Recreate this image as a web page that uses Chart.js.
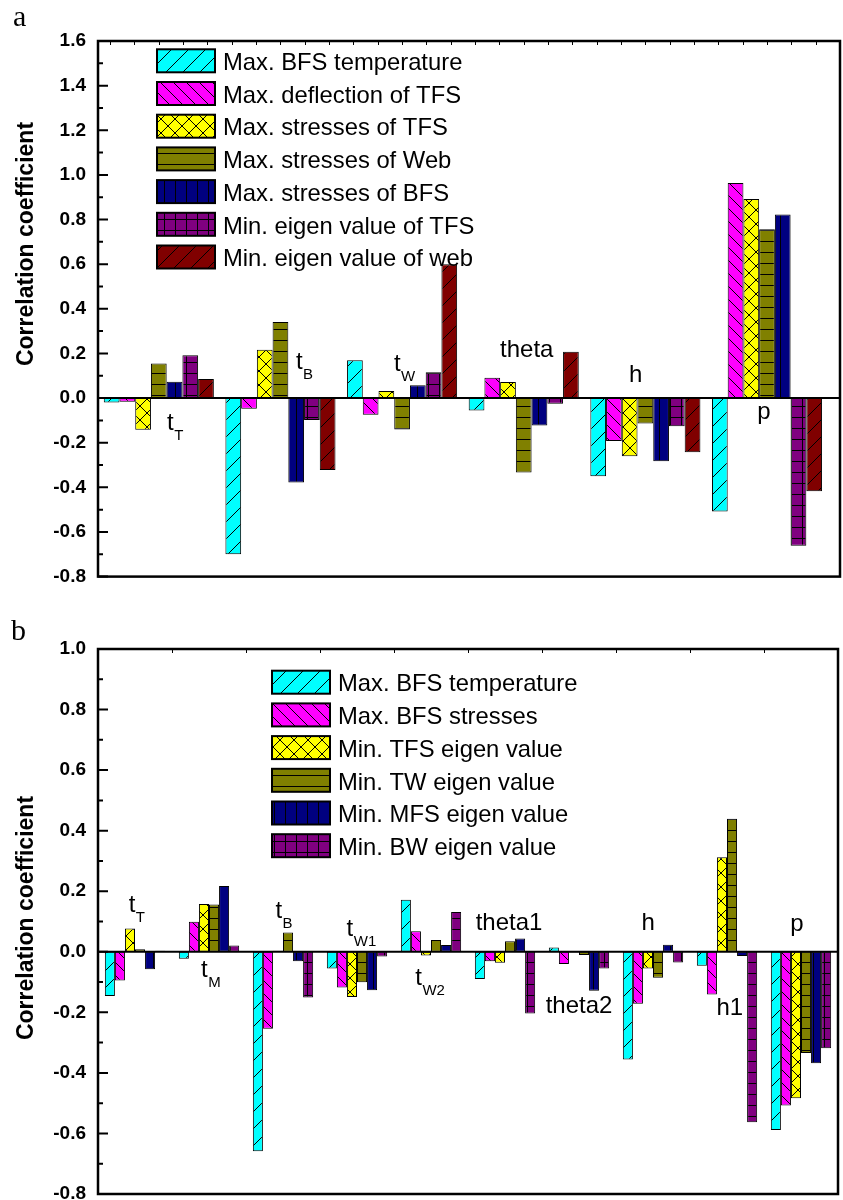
<!DOCTYPE html>
<html>
<head>
<meta charset="utf-8">
<script src="https://cdn.jsdelivr.net/npm/chart.js@4.4.1/dist/chart.umd.min.js"></script>
<style>
    html, body { margin: 0; padding: 0; background: #fff; width: 843px; height: 1200px; overflow: hidden; }
    canvas { position: absolute; left: 0; }
    #chartA { top: 0; }
    #chartB { top: 600px; }
</style>
</head>
<body>
<canvas id="chartA" width="843" height="600"></canvas>
<canvas id="chartB" width="843" height="620"></canvas>
<script>
// ---------------------------------------------------------
// Datos (coeficientes de correlacion)
// ---------------------------------------------------------

// Panel a: 6 grupos de parametros, 7 respuestas
const gruposA = ['tT', 'tB', 'tW', 'theta', 'h', 'p'];
const seriesA = [
    'Max. BFS temperature',
    'Max. deflection of TFS',
    'Max. stresses of TFS',
    'Max. stresses of Web',
    'Max. stresses of BFS',
    'Min. eigen value of TFS',
    'Min. eigen value of web'
];
const a_bfsTemp     = [-0.020, -0.700,  0.170, -0.056, -0.350, -0.508];
const a_deflTFS     = [-0.016, -0.048, -0.075,  0.091, -0.192,  0.964];
const a_stressTFS   = [-0.142,  0.217,  0.032,  0.072, -0.261,  0.892];
const a_stressWeb   = [ 0.155,  0.341, -0.141, -0.334, -0.114,  0.757];
const a_stressBFS   = [ 0.073, -0.378,  0.057, -0.123, -0.283,  0.823];
const a_eigenTFS    = [ 0.192, -0.098,  0.116, -0.026, -0.126, -0.662];
const a_eigenWeb    = [ 0.085, -0.322,  0.600,  0.207, -0.243, -0.418];
const ticksA = [-0.8, -0.6, -0.4, -0.2, 0.0, 0.2, 0.4, 0.6, 0.8, 1.0, 1.2, 1.4, 1.6];

// Panel b: 10 grupos de parametros, 6 respuestas
const gruposB = ['tT', 'tM', 'tB', 'tW1', 'tW2', 'theta1', 'theta2', 'h', 'h1', 'p'];
const seriesB = [
    'Max. BFS temperature',
    'Max. BFS stresses',
    'Min. TFS eigen value',
    'Min. TW eigen value',
    'Min. MFS eigen value',
    'Min. BW eigen value'
];
const b_bfsTemp   = [-0.146, -0.023, -0.659, -0.055,  0.172, -0.090,  0.014, -0.356, -0.046, -0.589];
const b_bfsStress = [-0.095,  0.099, -0.254, -0.118,  0.068, -0.031, -0.040, -0.172, -0.141, -0.508];
const b_eigenTFS  = [ 0.077,  0.158,  0.003, -0.149, -0.012, -0.036, -0.002, -0.055,  0.312, -0.484];
const b_eigenTW   = [ 0.008,  0.156,  0.064, -0.101,  0.039,  0.035, -0.011, -0.086,  0.439, -0.334];
const b_eigenMFS  = [-0.058,  0.217, -0.031, -0.127,  0.022,  0.044, -0.129,  0.023, -0.014, -0.368];
const b_eigenBW   = [ 0.003,  0.021, -0.151, -0.016,  0.131, -0.204, -0.055, -0.035, -0.563, -0.319];
const ticksB = [-0.8, -0.6, -0.4, -0.2, 0.0, 0.2, 0.4, 0.6, 0.8, 1.0];

// Etiquetas de grupo dentro del grafico (texto, subindice, posicion en unidades de datos)
const etiquetasA = [
    { t: 't', sub: 'T', x: 1.067, y: -0.145 },
    { t: 't', sub: 'B', x: 2.127, y: 0.132 },
    { t: 't', sub: 'W', x: 2.933, y: 0.123 },
    { t: 'theta', sub: '', x: 3.805, y: 0.185 },
    { t: 'h', sub: '', x: 4.866, y: 0.070 },
    { t: 'p', sub: '', x: 5.919, y: -0.092 }
];
const etiquetasB = [
    { t: 't', sub: 'T', x: 0.914, y: 0.131 },
    { t: 't', sub: 'M', x: 1.893, y: -0.083 },
    { t: 't', sub: 'B', x: 2.898, y: 0.111 },
    { t: 't', sub: 'W1', x: 3.859, y: 0.052 },
    { t: 't', sub: 'W2', x: 4.787, y: -0.110 },
    { t: 'theta1', sub: '', x: 5.604, y: 0.071 },
    { t: 'theta2', sub: '', x: 6.549, y: -0.202 },
    { t: 'h', sub: '', x: 7.845, y: 0.071 },
    { t: 'h1', sub: '', x: 8.857, y: -0.208 },
    { t: 'p', sub: '', x: 9.855, y: 0.068 }
];

// ---------------------------------------------------------
// Tramas (patrones de relleno estilo Origin)
// ---------------------------------------------------------
function crearTrama(color, tipo, T) {
    const c = document.createElement('canvas');
    c.width = T; c.height = T;
    const g = c.getContext('2d');
    g.fillStyle = color;
    g.fillRect(0, 0, T, T);
    g.strokeStyle = '#000';
    g.lineWidth = 1;
    g.beginPath();
    if (tipo === '/' || tipo === 'x') {
        for (let k = -1; k <= 1; k++) { g.moveTo(k * T, T); g.lineTo(k * T + T, 0); }
    }
    if (tipo === '\\' || tipo === 'x') {
        for (let k = -1; k <= 1; k++) { g.moveTo(k * T, 0); g.lineTo(k * T + T, T); }
    }
    if (tipo === '-' || tipo === '+') { g.moveTo(0, T - 0.5); g.lineTo(T, T - 0.5); }
    if (tipo === '|' || tipo === '+') { g.moveTo(T - 0.5, 0); g.lineTo(T - 0.5, T); }
    g.stroke();
    return g.createPattern(c, 'repeat');
}

const tramas = [
    crearTrama('#00FFFF', '/', 17),
    crearTrama('#FF00FF', '\\', 13),
    crearTrama('#FFFF00', 'x', 14),
    crearTrama('#808000', '-', 11),
    crearTrama('#000080', '|', 11),
    crearTrama('#800080', '+', 11),
    crearTrama('#800000', '/', 17)
];

const FUENTE = '"Liberation Sans", Arial, sans-serif';

// ---------------------------------------------------------
// Plugin: marco, ticks interiores, linea cero, leyenda y textos
// ---------------------------------------------------------
const marcoPlugin = {
    id: 'marco',
    afterDatasetsDraw(chart, args, opts) {
        const { ctx, chartArea: a, scales: { x, y } } = chart;
        ctx.save();
        ctx.strokeStyle = '#000';
        ctx.fillStyle = '#000';

        // linea cero
        const y0 = y.getPixelForValue(0);
        ctx.lineWidth = 2;
        ctx.beginPath();
        ctx.moveTo(a.left, y0);
        ctx.lineTo(a.right, y0);
        ctx.stroke();

        // ticks del eje y hacia dentro (mayores y menores)
        ctx.lineWidth = 2;
        ctx.beginPath();
        opts.ticks.forEach((v, i) => {
            const py = y.getPixelForValue(v);
            ctx.moveTo(a.left, py); ctx.lineTo(a.left + 10, py);
            if (i < opts.ticks.length - 1) {
                const pm = y.getPixelForValue((v + opts.ticks[i + 1]) / 2);
                ctx.moveTo(a.left, pm); ctx.lineTo(a.left + 5, pm);
            }
        });
        ctx.stroke();

        // ticks del eje superior
        ctx.lineWidth = 1;
        ctx.beginPath();
        for (let v = opts.topStart; v < x.max - 1e-6; v += opts.topStep) {
            const px = Math.round(x.getPixelForValue(v)) + 0.5;
            ctx.moveTo(px, a.top); ctx.lineTo(px, a.top + 4);
        }
        ctx.stroke();

        // marco
        ctx.lineWidth = 2.5;
        ctx.strokeRect(a.left, a.top, a.right - a.left, a.bottom - a.top);

        // leyenda
        ctx.font = '23.8px ' + FUENTE;
        ctx.textAlign = 'left';
        ctx.textBaseline = 'alphabetic';
        chart.data.datasets.forEach((ds, i) => {
            const sx = a.left + opts.legX;
            const sy = a.top + opts.legY + i * 32.7;
            ctx.fillStyle = ds.backgroundColor;
            ctx.fillRect(sx, sy, 58, 23);
            ctx.lineWidth = 2;
            ctx.strokeRect(sx, sy, 58, 23);
            ctx.fillStyle = '#000';
            ctx.fillText(ds.label, sx + 66, sy + 20.7);
        });

        // etiquetas de grupo
        opts.etiquetas.forEach(e => {
            const px = x.getPixelForValue(e.x);
            const py = y.getPixelForValue(e.y);
            ctx.font = '24px ' + FUENTE;
            ctx.fillText(e.t, px, py);
            if (e.sub) {
                const w = ctx.measureText(e.t).width;
                ctx.font = '15px ' + FUENTE;
                ctx.fillText(e.sub, px + w + 0.5, py + 10);
            }
        });

        // titulo del eje y
        ctx.save();
        ctx.translate(opts.tituloX, opts.tituloY);
        ctx.rotate(-Math.PI / 2);
        ctx.font = 'bold 23px ' + FUENTE;
        ctx.textAlign = 'center';
        ctx.textBaseline = 'middle';
        ctx.fillText('Correlation coefficient', 0, 0);
        ctx.restore();

        // letra del panel
        ctx.font = '30px "Liberation Serif", "Times New Roman", serif';
        ctx.textAlign = 'left';
        ctx.fillText(opts.panel, opts.panelX, opts.panelY);

        ctx.restore();
    }
};

// ---------------------------------------------------------
// Construccion de cada panel
// ---------------------------------------------------------
function crearPanel(canvasId, cfg) {
    const posiciones = cfg.grupos.map((g, k) => k + 1);
    const datasets = cfg.valores.map((vals, i) => ({
        label: cfg.series[i],
        data: vals.map((v, k) => ({ x: posiciones[k], y: v })),
        backgroundColor: tramas[i],
        borderColor: '#000',
        borderWidth: 1,
        borderSkipped: false,
        categoryPercentage: cfg.catPct,
        barPercentage: 1
    }));

    return new Chart(document.getElementById(canvasId), {
        type: 'bar',
        data: { datasets },
        options: {
            responsive: false,
            animation: false,
            devicePixelRatio: 1,
            events: [],
            layout: { padding: cfg.padding },
            plugins: {
                legend: { display: false },
                tooltip: { enabled: false },
                marco: cfg.marco
            },
            scales: {
                x: {
                    type: 'linear', min: cfg.xMin, max: cfg.xMax, offset: false, display: false,
                    // un tick por grupo: el ancho de barra se calcula con la distancia entre grupos
                    afterBuildTicks: s => { s.ticks = posiciones.map(v => ({ value: v })); }
                },
                y: {
                    min: cfg.ticks[0],
                    max: cfg.ticks[cfg.ticks.length - 1],
                    grid: { display: false, drawTicks: false },
                    border: { display: false },
                    afterFit: s => { s.width = 98; },
                    afterBuildTicks: s => { s.ticks = cfg.ticks.map(v => ({ value: v })); },
                    ticks: {
                        padding: 12,
                        color: '#000',
                        font: { family: FUENTE, size: 19, weight: 'bold' },
                        callback: v => (Math.abs(v) < 1e-9 ? 0 : v).toFixed(1)
                    }
                }
            }
        },
        plugins: [marcoPlugin]
    });
}

crearPanel('chartA', {
    grupos: gruposA,
    series: seriesA,
    valores: [a_bfsTemp, a_deflTFS, a_stressTFS, a_stressWeb, a_stressBFS, a_eigenTFS, a_eigenWeb],
    ticks: ticksA,
    xMin: 0.5, xMax: 6.6, catPct: 0.905,
    padding: { left: 0, top: 41, right: 3, bottom: 12 },
    marco: {
        ticks: ticksA, topStart: 0.6, topStep: 0.2,
        legX: 59, legY: 8.3,
        etiquetas: etiquetasA,
        tituloX: 27, tituloY: 244,
        panel: 'a', panelX: 13, panelY: 26
    }
});

crearPanel('chartB', {
    grupos: gruposB,
    series: seriesB,
    valores: [b_bfsTemp, b_bfsStress, b_eigenTFS, b_eigenTW, b_eigenMFS, b_eigenBW],
    ticks: ticksB,
    xMin: 0.5, xMax: 10.5, catPct: 0.815,
    padding: { left: 0, top: 49, right: 5, bottom: 26 },
    marco: {
        ticks: ticksB, topStart: 1.5, topStep: 1,
        legX: 174, legY: 21.7,
        etiquetas: etiquetasB,
        tituloX: 27, tituloY: 318,
        panel: 'b', panelX: 11, panelY: 40
    }
});
</script>
</body>
</html>
